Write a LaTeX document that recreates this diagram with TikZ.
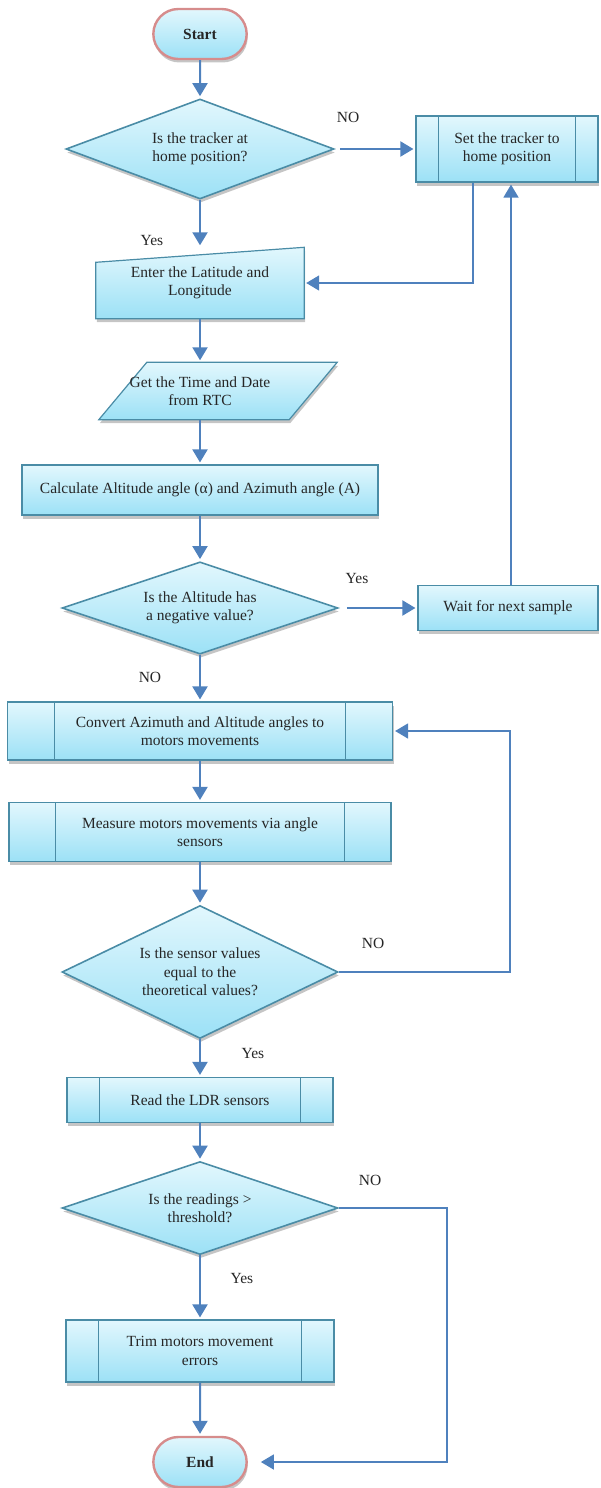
\documentclass[tikz,border=0pt]{standalone}
\usepackage{fontspec}
\setmainfont{Liberation Serif}
\usepackage{tikz}
\usetikzlibrary{positioning,arrows.meta,shadows,shapes.geometric,shapes.misc,calc,backgrounds}
\definecolor{boxtop}{RGB}{226,247,253}
\definecolor{boxbottom}{RGB}{156,225,246}
\definecolor{boxline}{RGB}{74,140,166}
\definecolor{termline}{RGB}{214,140,140}
\definecolor{flowblue}{RGB}{79,129,189}
\tikzset{
chart/.style={
    x=1pt,
    y=-1pt,
    >={Triangle[width=15pt,length=13pt]},
    every node/.style={font=\fontsize{15.5}{18.5}\selectfont, align=center, text=black!85}
},
boxed/.style={
    draw=boxline,
    line width=1.2pt,
    top color=boxtop,
    bottom color=boxbottom,
    drop shadow={shadow xshift=1pt, shadow yshift=-3.5pt, fill=black!45}
},
terminal/.style={
    boxed,
    rounded rectangle,
    draw=termline,
    line width=2.4pt,
    minimum width=100pt,
    minimum height=50pt,
    font=\fontsize{15.5}{18.5}\selectfont\bfseries
},
decision/.style={
    boxed,
    diamond,
    aspect=2,
    inner sep=1pt,
    line width=1.6pt
},
process/.style={
    boxed,
    rectangle
},
predef/.style={
    process,
    path picture={
        \draw[boxline, line width=1pt]
            ($(path picture bounding box.north west)!0.122!(path picture bounding box.north east)$) --
            ($(path picture bounding box.south west)!0.122!(path picture bounding box.south east)$)
            ($(path picture bounding box.north east)!0.122!(path picture bounding box.north west)$) --
            ($(path picture bounding box.south east)!0.122!(path picture bounding box.south west)$);
    }
},
textonly/.style={
    rectangle
},
flows/.style={
    ->,
    draw=flowblue,
    line width=2pt,
    shorten >=2pt
},
loopback/.style={
    flows,
    line width=1.6pt
},
answer/.style={
    inner sep=1pt
}}

\begin{document}
\begin{tikzpicture}[chart]
\useasboundingbox (0,0) rectangle (600,1488);

\node[terminal]    (start)    at (200,34)    {Start};
\node[decision, minimum width=268pt, minimum height=100pt]    (home)    [below of=start, node distance=115pt]    {Is the tracker at\\home position?};
\node[predef, minimum width=182pt, minimum height=66pt]    (sethome)    [right of=home, node distance=307pt]    {Set the tracker to\\home position};
\node[textonly, minimum width=208pt, minimum height=71pt]    (enter)    [below of=home, node distance=134pt]    {Enter the Latitude and\\Longitude};
\node[textonly, minimum width=190pt, minimum height=57pt]    (get)    [below of=enter, node distance=108pt]    {Get the Time and Date\\from RTC};
\node[process, minimum width=356pt, minimum height=50pt]    (calc)    [below of=get, node distance=99pt]    {Calculate Altitude angle (α) and Azimuth angle (A)};
\node[decision, minimum width=276pt, minimum height=92pt]    (neg)    [below of=calc, node distance=118pt]    {Is the Altitude has\\a negative value?};
\node[process, minimum width=180pt, minimum height=45pt]    (wait)    [right of=neg, node distance=308pt]    {Wait for next sample};
\node[predef, minimum width=385pt, minimum height=58pt]    (conv)    [below of=neg, node distance=123pt]    {Convert Azimuth and Altitude angles to\\motors movements};
\node[predef, minimum width=382pt, minimum height=59pt]    (meas)    [below of=conv, node distance=101pt]    {Measure motors movements via angle\\sensors};
\node[decision, minimum width=276pt, minimum height=133pt]    (equal)    [below of=meas, node distance=140pt]    {Is the sensor values\\equal to the\\theoretical values?};
\node[predef, minimum width=266pt, minimum height=45pt]    (ldr)    [below of=equal, node distance=128pt]    {Read the LDR sensors};
\node[decision, minimum width=276pt, minimum height=93pt]    (thr)    [below of=ldr, node distance=108pt]    {Is the readings >\\threshold?};
\node[predef, minimum width=268pt, minimum height=62pt]    (trim)    [below of=thr, node distance=143pt]    {Trim motors movement\\errors};
\node[terminal]    (endn)    [below of=trim, node distance=111pt]    {End};

\begin{scope}[on background layer]
\draw[boxed] (enter.south west) -- ([yshift=-15pt]enter.north west) -- (enter.north east) -- (enter.south east) -- cycle;
\draw[boxed] ([xshift=-6pt]get.south west) -- ([xshift=42pt]get.north west) -- ([xshift=42pt]get.north east) -- ([xshift=-6pt]get.south east) -- cycle;
\end{scope}

\node[answer]    (no1)     at (348,117)     {NO};
\node[answer]    (yes1)    at (152,240)     {Yes};
\node[answer]    (yes2)    at (357,578)     {Yes};
\node[answer]    (no2)     at (150,677)     {NO};
\node[answer]    (no3)     at (373,943)     {NO};
\node[answer]    (yes3)    at (253,1053)    {Yes};
\node[answer]    (no4)     at (370,1180)    {NO};
\node[answer]    (yes4)    at (242,1278)    {Yes};

\coordinate    (drop)     at ([xshift=-34pt]sethome.south);
\coordinate    (rise)     at ([xshift=3pt]wait.north);
\coordinate    (turn1)    at (510,972);
\coordinate    (turn2)    at (447,1208);

\path    (start)    edge[flows]    (home);
\path    (home)     edge[flows, shorten <=5pt]    (sethome);
\path    (home)     edge[flows]    (enter);
\path    (enter)    edge[flows]    (get);
\path    (get)      edge[flows]    (calc);
\path    (calc)     edge[flows]    (neg);
\path    (neg)      edge[flows, shorten <=8pt]    (wait);
\path    (neg)      edge[flows]    (conv);
\path    (conv)     edge[flows]    (meas);
\path    (meas)     edge[flows]    (equal);
\path    (equal)    edge[flows]    (ldr);
\path    (ldr)      edge[flows]    (thr);
\path    (thr)      edge[flows]    (trim);
\path    (trim)     edge[flows]    (endn);

\draw[loopback]    (drop) |- (enter.east);
\draw[loopback]    (rise) -- (rise |- sethome.south);
\draw[loopback]    (equal.east) -- (turn1) |- (conv.east);
\draw[loopback, shorten >=13pt]    (thr.east) -- (turn2) |- (endn.east);
\end{tikzpicture}
\end{document}
